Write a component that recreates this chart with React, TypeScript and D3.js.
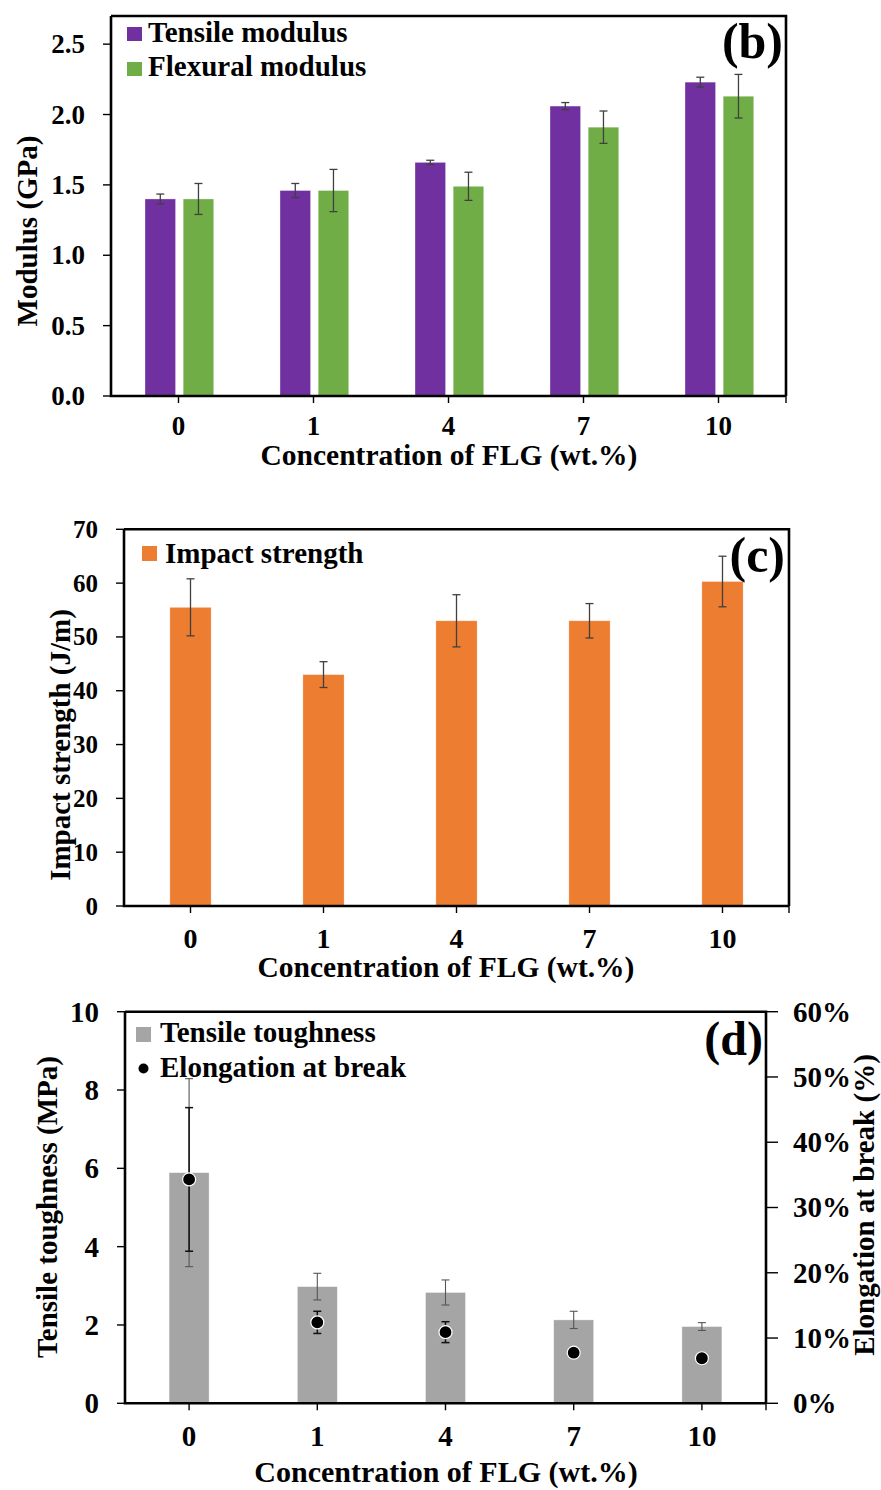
import React from 'react';
import * as d3 from 'd3';

// FLG concentration categories (wt.%)
const categories = ['0', '1', '4', '7', '10'];

// (b) modulus, GPa
const tensileModulus = [1.40, 1.46, 1.66, 2.06, 2.23];
const tensileModulusErr = [0.035, 0.05, 0.015, 0.025, 0.035];
const flexuralModulus = [1.40, 1.46, 1.49, 1.91, 2.13];
const flexuralModulusErr = [0.11, 0.15, 0.10, 0.115, 0.155];
const modulusTicks = [0, 0.5, 1.0, 1.5, 2.0, 2.5];

// (c) impact strength, J/m
const impactStrength = [55.5, 43.0, 53.0, 53.0, 60.3];
const impactStrengthErr = [5.3, 2.4, 4.85, 3.2, 4.7];
const impactTicks = [0, 10, 20, 30, 40, 50, 60, 70];

// (d) toughness (MPa) and elongation at break (fraction)
const tensileToughness = [5.89, 2.98, 2.83, 2.13, 1.96];
const tensileToughnessErr = [2.4, 0.34, 0.32, 0.22, 0.1];
const elongation = [0.343, 0.124, 0.109, 0.0775, 0.069];
const elongationErr = [0.11, 0.017, 0.016, 0.005, 0.004];
const toughnessTicks = [0, 2, 4, 6, 8, 10];
const elongationTicks = [0, 0.1, 0.2, 0.3, 0.4, 0.5, 0.6];

const PURPLE = '#7030A0';
const GREEN = '#70AD47';
const ORANGE = '#ED7D31';
const GRAY = '#A5A5A5';
const ERR = '#404040';
const FONT = '"Liberation Serif", "Times New Roman", serif';

const xLabel = 'Concentration of FLG (wt.%)';

type ErrProps = { x: number; y0: number; y1: number; color?: string; w?: number; cap?: number };
const ErrorBar = ({ x, y0, y1, color = ERR, w = 1.3, cap = 4 }: ErrProps) => (
  <g stroke={color} strokeWidth={w}>
    <line x1={x} x2={x} y1={y0} y2={y1} />
    <line x1={x - cap} x2={x + cap} y1={y0} y2={y0} />
    <line x1={x - cap} x2={x + cap} y1={y1} y2={y1} />
  </g>
);

// Frame: left axis, bottom axis and box
const Frame = ({ x, y, box, tickSize, tickFont, xTickY, fmt, ticks }: any) => {
  const [x0, x1] = x.range();
  const [yb, yt] = y.range();
  return (
    <g>
      {ticks.map((t: number) => (
        <g key={t}>
          <line x1={x0 - 8} x2={x0} y1={y(t)} y2={y(t)} stroke="#000" strokeWidth={1.4} />
          <text x={x0 - 26} y={y(t)} dy="0.34em" textAnchor="end" fontSize={tickSize}
            fontWeight="bold" fontFamily={FONT}>{fmt(t)}</text>
        </g>
      ))}
      {categories.map((c) => (
        <g key={c}>
          <line x1={x(c) + x.bandwidth() / 2} x2={x(c) + x.bandwidth() / 2} y1={yb} y2={yb + 7}
            stroke="#000" strokeWidth={1.4} />
          <text x={x(c) + x.bandwidth() / 2} y={xTickY} textAnchor="middle" fontSize={tickFont}
            fontWeight="bold" fontFamily={FONT}>{c}</text>
        </g>
      ))}
      <line x1={x1} x2={x1} y1={yb} y2={yb + 7} stroke="#000" strokeWidth={1.4} />
      {box && <path d={`M${x0},${yt}H${x1}V${yb}`} fill="none" stroke="#000" strokeWidth={2.6} />}
      <path d={`M${x0},${yt}V${yb}H${x1}`} fill="none" stroke="#000" strokeWidth={2.6} />
    </g>
  );
};

const PanelB = () => {
  const x = d3.scaleBand().domain(categories).range([111, 786]);
  const y = d3.scaleLinear().domain([0, 2.7]).range([396, 16]);
  const bw = x.bandwidth();
  const xs = d3.scaleBand().domain(['t', 'f']).range([bw * 0.252, bw * 0.761]).paddingInner(0.2);
  const series = [
    { key: 't', vals: tensileModulus, errs: tensileModulusErr, color: PURPLE },
    { key: 'f', vals: flexuralModulus, errs: flexuralModulusErr, color: GREEN },
  ];
  return (
    <g>
      {series.map((s) =>
        categories.map((c, i) => {
          const bx = (x(c) as number) + (xs(s.key) as number);
          return (
            <g key={s.key + c}>
              <rect x={bx} y={y(s.vals[i])} width={xs.bandwidth()} height={y(0) - y(s.vals[i])}
                fill={s.color} stroke="#fff" strokeOpacity={0.5} strokeWidth={0.6} />
              <ErrorBar x={bx + xs.bandwidth() / 2} y0={y(s.vals[i] + s.errs[i])} y1={y(s.vals[i] - s.errs[i])} />
            </g>
          );
        })
      )}
      <Frame x={x} y={y} box ticks={modulusTicks} tickSize={27} tickFont={27} xTickY={435}
        fmt={d3.format('.1f')} />
      <rect x={127} y={27} width={15} height={14} fill={PURPLE} />
      <text x={148} y={42} fontSize={29} fontWeight="bold" fontFamily={FONT}>Tensile modulus</text>
      <rect x={127} y={62} width={15} height={14} fill={GREEN} />
      <text x={148} y={76} fontSize={29} fontWeight="bold" fontFamily={FONT}>Flexural modulus</text>
      <text x={783} y={58} textAnchor="end" fontSize={50} fontWeight="bold" fontFamily={FONT}>(b)</text>
      <text transform="translate(37,231) rotate(-90)" textAnchor="middle" fontSize={29}
        fontWeight="bold" fontFamily={FONT}>Modulus (GPa)</text>
      <text x={449} y={465} textAnchor="middle" fontSize={29.5} fontWeight="bold" fontFamily={FONT}>{xLabel}</text>
    </g>
  );
};

const PanelC = () => {
  const x = d3.scaleBand().domain(categories).range([124, 789]);
  const y = d3.scaleLinear().domain([0, 70]).range([906, 529.3]);
  const barW = x.bandwidth() * 0.31;
  return (
    <g>
      {categories.map((c, i) => {
        const cx = (x(c) as number) + x.bandwidth() / 2;
        return (
          <g key={c}>
            <rect x={cx - barW / 2} y={y(impactStrength[i])} width={barW} height={y(0) - y(impactStrength[i])}
              fill={ORANGE} stroke="#fff" strokeOpacity={0.5} strokeWidth={0.6} />
            <ErrorBar x={cx} y0={y(impactStrength[i] + impactStrengthErr[i])}
              y1={y(impactStrength[i] - impactStrengthErr[i])} />
          </g>
        );
      })}
      <Frame x={x} y={y} box ticks={impactTicks} tickSize={25} tickFont={28} xTickY={948}
        fmt={d3.format('d')} />
      <rect x={142} y={546} width={15} height={15} fill={ORANGE} />
      <text x={165} y={563} fontSize={29} fontWeight="bold" fontFamily={FONT}>Impact strength</text>
      <text x={785} y={572} textAnchor="end" fontSize={50} fontWeight="bold" fontFamily={FONT}>(c)</text>
      <text transform="translate(70,745) rotate(-90)" textAnchor="middle" fontSize={29}
        fontWeight="bold" fontFamily={FONT}>Impact strength (J/m)</text>
      <text x={446} y={977} textAnchor="middle" fontSize={29.5} fontWeight="bold" fontFamily={FONT}>{xLabel}</text>
    </g>
  );
};

const PanelD = () => {
  const x = d3.scaleBand().domain(categories).range([125, 766]);
  const y = d3.scaleLinear().domain([0, 10]).range([1403.3, 1011.7]);
  const y2 = d3.scaleLinear().domain([0, 0.6]).range([1403.3, 1011.7]);
  const barW = x.bandwidth() * 0.312;
  const pct = d3.format('.0%');
  return (
    <g>
      {categories.map((c, i) => {
        const cx = (x(c) as number) + x.bandwidth() / 2;
        return (
          <g key={c}>
            <rect x={cx - barW / 2} y={y(tensileToughness[i])} width={barW}
              height={y(0) - y(tensileToughness[i])} fill={GRAY} stroke="#fff" strokeOpacity={0.6} strokeWidth={0.6} />
            <ErrorBar x={cx} y0={y(tensileToughness[i] + tensileToughnessErr[i])}
              y1={y(tensileToughness[i] - tensileToughnessErr[i])} color="#555" w={1.1} />
          </g>
        );
      })}
      {categories.map((c, i) => {
        const cx = (x(c) as number) + x.bandwidth() / 2;
        return (
          <g key={'e' + c}>
            <ErrorBar x={cx} y0={y2(elongation[i] + elongationErr[i])} y1={y2(elongation[i] - elongationErr[i])}
              color="#111" w={1.5} />
            <circle cx={cx} cy={y2(elongation[i])} r={6.5} fill="#000" stroke="#fff" strokeWidth={1.2} />
          </g>
        );
      })}
      <Frame x={x} y={y} ticks={toughnessTicks} tickSize={29} tickFont={29} xTickY={1446}
        fmt={d3.format('d')} />
      {elongationTicks.map((t) => (
        <g key={t}>
          <line x1={766} x2={778} y1={y2(t)} y2={y2(t)} stroke="#000" strokeWidth={1.4} />
          <text x={793} y={y2(t)} dy="0.34em" fontSize={29} fontWeight="bold" fontFamily={FONT}>{pct(t)}</text>
        </g>
      ))}
      <path d={`M125,1011.7H766V1403.3`} fill="none" stroke="#000" strokeWidth={2.6} />
      <rect x={136} y={1027} width={15} height={15} fill={GRAY} />
      <text x={160} y={1042} fontSize={29} fontWeight="bold" fontFamily={FONT}>Tensile toughness</text>
      <circle cx={143.5} cy={1068.5} r={5} fill="#000" />
      <text x={160} y={1077} fontSize={29} fontWeight="bold" fontFamily={FONT}>Elongation at break</text>
      <text x={763} y={1055} textAnchor="end" fontSize={48} fontWeight="bold" fontFamily={FONT}>(d)</text>
      <text transform="translate(57,1207) rotate(-90)" textAnchor="middle" fontSize={29}
        fontWeight="bold" fontFamily={FONT}>Tensile toughness (MPa)</text>
      <text transform="translate(874,1205) rotate(-90)" textAnchor="middle" fontSize={29}
        fontWeight="bold" fontFamily={FONT}>Elongation at break (%)</text>
      <text x={446} y={1482} textAnchor="middle" fontSize={30} fontWeight="bold" fontFamily={FONT}>{xLabel}</text>
    </g>
  );
};

export default function App() {
  return (
    <div style={{ position: 'absolute', left: 0, top: 0 }}>
      <svg width={881} height={1490} style={{ display: 'block', background: '#fff' }}>
        <PanelB />
        <PanelC />
        <PanelD />
      </svg>
    </div>
  );
}
